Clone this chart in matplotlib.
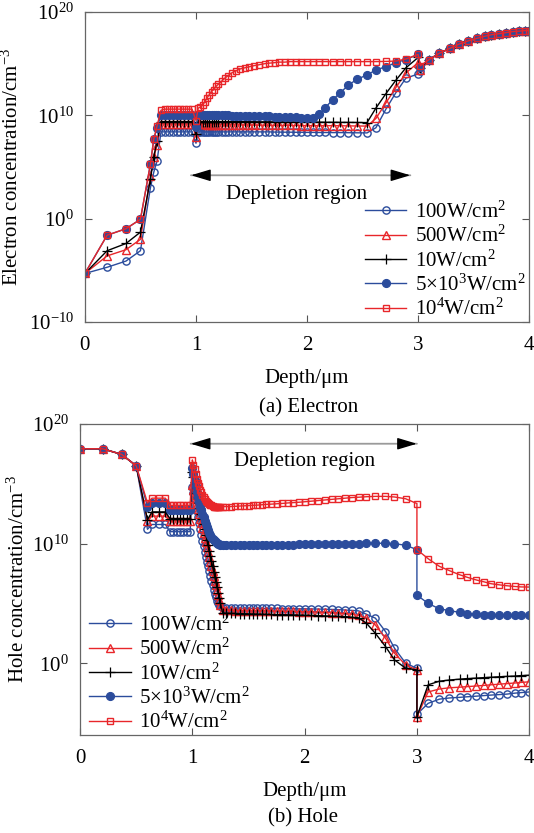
import numpy as np
import matplotlib
matplotlib.use('Agg')
import matplotlib.pyplot as plt
from matplotlib.ticker import FixedLocator, LogFormatterSciNotation, NullLocator

plt.rcParams['font.family'] = ['Liberation Serif', 'DejaVu Serif']
plt.rcParams['mathtext.fontset'] = 'custom'
plt.rcParams['mathtext.rm'] = 'Liberation Serif'
plt.rcParams['mathtext.it'] = 'Liberation Serif:italic'
plt.rcParams['mathtext.bf'] = 'Liberation Serif:bold'

labels = [r'100W/cm$^2$', r'500W/cm$^2$', r'10W/cm$^2$',
          r'5×10$^3$W/cm$^2$', r'10$^4$W/cm$^2$']

# ---------------- (a) Electron concentration (log10 cm^-3) ----------------
x_e = [0, 0.2, 0.37, 0.5, 0.59, 0.62, 0.65, 0.685,
       0.72, 0.755, 0.79, 0.825, 0.86, 0.895, 0.93, 0.965, 1.0,
       1.02, 1.04, 1.06, 1.08, 1.10, 1.12, 1.14, 1.16, 1.18, 1.20,
       1.23, 1.26, 1.29, 1.32, 1.36, 1.40, 1.44, 1.48, 1.52, 1.57, 1.62, 1.66,
       1.71, 1.75, 1.80, 1.85, 1.90, 1.95, 2.0,
       2.05, 2.11, 2.16, 2.23, 2.30, 2.37, 2.45, 2.54, 2.62, 2.71, 2.80, 2.89,
       3.0, 3.02,
       3.1, 3.19, 3.29, 3.37, 3.45, 3.53, 3.6, 3.66, 3.73, 3.79, 3.85, 3.91, 3.96, 4.0]

e_100 = [-5.3, -4.7, -4.1, -3.1, 3.0, 4.5, 5.6, 8.4,
         8.4, 8.4, 8.4, 8.4, 8.4, 8.4, 8.4, 8.4, 7.3,
         8.4, 8.4, 8.4, 8.4, 8.4, 8.4, 8.4, 8.4, 8.4, 8.4,
         8.4, 8.4, 8.4, 8.4, 8.4, 8.4, 8.4, 8.4, 8.4, 8.4, 8.4, 8.4,
         8.38, 8.38, 8.37, 8.37, 8.36, 8.36, 8.35,
         8.35, 8.34, 8.34, 8.33, 8.33, 8.32, 8.31, 8.3, 8.8, 10.6, 12.2, 13.6,
         14.0, 14.3,
         15.4, 16.0, 16.5, 16.9, 17.2, 17.45, 17.65, 17.8, 17.9, 18.0, 18.1, 18.15, 18.2, 18.2]

e_500 = [-5.3, -3.6, -3.0, -2.0, 4.1, 6.0, 7.1, 9.2,
         9.15, 9.15, 9.15, 9.15, 9.15, 9.15, 9.15, 9.15, 7.9,
         9.12, 9.12, 9.12, 9.12, 9.11, 9.11, 9.11, 9.1, 9.1, 9.1,
         9.1, 9.09, 9.09, 9.08, 9.08, 9.07, 9.07, 9.06, 9.06, 9.05, 9.05, 9.04,
         9.04, 9.03, 9.03, 9.02, 9.02, 9.01, 9.01,
         9.0, 9.0, 9.0, 9.0, 9.0, 8.98, 8.97, 8.96, 9.7, 11.2, 12.7, 14.1,
         15.1, 14.4,
         15.4, 16.0, 16.5, 16.9, 17.2, 17.45, 17.65, 17.8, 17.9, 18.0, 18.1, 18.15, 18.2, 18.2]

e_10 = [-5.3, -3.1, -2.4, -1.3, 3.8, 6.0, 7.5, 9.4,
        9.4, 9.4, 9.4, 9.4, 9.4, 9.4, 9.4, 9.4, 8.2,
        9.4, 9.4, 9.4, 9.4, 9.4, 9.4, 9.4, 9.4, 9.4, 9.4,
        9.4, 9.4, 9.4, 9.39, 9.39, 9.39, 9.38, 9.38, 9.38, 9.37, 9.37, 9.37,
        9.36, 9.36, 9.36, 9.35, 9.35, 9.35, 9.35,
        9.34, 9.34, 9.33, 9.33, 9.32, 9.32, 9.31, 9.3, 10.7, 12.1, 13.4, 14.6,
        15.6, 14.6,
        15.4, 16.0, 16.5, 16.9, 17.2, 17.45, 17.65, 17.8, 17.9, 18.0, 18.1, 18.15, 18.2, 18.2]

e_5e3 = [-5.3, -1.6, -0.97, -0.06, 5.3, 7.7, 8.8, 10.0,
         10.05, 10.05, 10.05, 10.05, 10.05, 10.05, 10.05, 10.05, 8.9,
         10.05, 10.05, 10.05, 10.05, 10.04, 10.04, 10.03, 10.03, 10.02, 10.02,
         10.01, 10.0, 9.99, 9.98, 9.97, 9.96, 9.95, 9.94, 9.93, 9.92, 9.91, 9.9,
         9.88, 9.86, 9.84, 9.82, 9.8, 9.78, 9.76,
         9.75, 10.1, 10.7, 11.5, 12.2, 12.9, 13.5, 13.9, 14.4, 14.7, 15.1, 15.4,
         15.9, 14.7,
         15.4, 16.0, 16.5, 16.9, 17.2, 17.45, 17.65, 17.8, 17.9, 18.0, 18.1, 18.15, 18.2, 18.2]

e_1e4 = [-5.3, -1.6, -0.97, -0.06, 5.3, 7.7, 9.0, 10.5,
         10.6, 10.6, 10.6, 10.6, 10.6, 10.6, 10.6, 10.6, 9.5,
         10.7, 10.8, 11.0, 11.3, 11.7, 12.0, 12.3, 12.5, 12.8, 13.0,
         13.3, 13.6, 13.85, 14.1, 14.3, 14.5, 14.6, 14.7, 14.8, 14.9, 15.0, 15.05,
         15.1, 15.15, 15.15, 15.2, 15.2, 15.2, 15.2,
         15.2, 15.2, 15.2, 15.2, 15.2, 15.2, 15.2, 15.2, 15.2, 15.22, 15.25, 15.45,
         15.9, 14.8,
         15.4, 16.0, 16.5, 16.9, 17.2, 17.45, 17.65, 17.8, 17.9, 18.0, 18.1, 18.15, 18.2, 18.2]

# ---------------- (b) Hole concentration (log10 cm^-3) ----------------
x_h = [0, 0.2, 0.37, 0.5,
       0.6, 0.64, 0.7, 0.76,
       0.8, 0.83, 0.86, 0.89, 0.92, 0.95, 0.98,
       1.0,
       1.01, 1.02, 1.03, 1.04, 1.05, 1.06, 1.07, 1.08, 1.09, 1.10, 1.11, 1.12, 1.13,
       1.14, 1.15, 1.16, 1.17, 1.18, 1.19, 1.20, 1.21, 1.22, 1.23, 1.24, 1.25, 1.27,
       1.3, 1.34, 1.38, 1.42, 1.46, 1.5, 1.54, 1.58, 1.62, 1.66, 1.7, 1.75, 1.8,
       1.85, 1.9, 1.95, 2.0, 2.06, 2.12, 2.18, 2.24, 2.3, 2.36, 2.42, 2.48,
       2.55, 2.63, 2.72, 2.8, 2.9, 3.0,
       3.0,
       3.1, 3.2, 3.29, 3.38, 3.45, 3.53, 3.6, 3.66, 3.73, 3.8, 3.87, 3.93, 4.0]

h_100 = [17.93, 17.93, 17.46, 16.5,
         11.2, 11.6, 11.6, 11.6,
         11.0, 11.0, 11.0, 11.0, 11.0, 11.0, 11.0,
         14.7,
         14.2, 13.7, 13.2, 12.7, 12.2, 11.7, 11.2, 10.7, 10.2, 9.8, 9.3, 8.9, 8.5,
         8.1, 7.7, 7.3, 6.9, 6.5, 6.1, 5.8, 5.5, 5.2, 5.0, 4.85, 4.75, 4.65,
         4.63, 4.62, 4.62, 4.61, 4.61, 4.6, 4.6, 4.6, 4.59, 4.59, 4.58, 4.58, 4.57,
         4.57, 4.56, 4.55, 4.55, 4.54, 4.53, 4.52, 4.5, 4.48, 4.45, 4.42, 4.38,
         4.1, 3.77, 2.65, 1.26, 0.0, -0.42,
         -4.27,
         -3.35, -3.0, -2.9, -2.85, -2.8, -2.75, -2.7, -2.66, -2.62, -2.58, -2.5, -2.45, -2.4]

h_500 = [17.93, 17.93, 17.46, 16.5,
         11.9, 12.3, 12.3, 12.3,
         11.9, 11.9, 11.9, 11.9, 11.9, 11.9, 11.9,
         14.9,
         14.5, 14.1, 13.7, 13.3, 12.9, 12.5, 12.1, 11.7, 11.3, 10.9, 10.5, 10.1, 9.7,
         9.3, 8.9, 8.5, 8.1, 7.7, 7.3, 6.9, 6.5, 6.1, 5.7, 5.3, 4.9, 4.45,
         4.42, 4.42, 4.41, 4.41, 4.4, 4.4, 4.39, 4.39, 4.38, 4.38, 4.37, 4.36, 4.35,
         4.34, 4.33, 4.32, 4.31, 4.3, 4.28, 4.26, 4.24, 4.2, 4.16, 4.1, 4.0,
         3.77, 3.2, 2.1, 0.84, -0.14, -0.56,
         -4.47,
         -2.4, -2.15, -2.05, -2.0, -1.95, -1.9, -1.85, -1.8, -1.75, -1.7, -1.65, -1.6, -1.55]

h_10 = [17.93, 17.93, 17.46, 16.5,
        12.0, 12.65, 12.65, 12.65,
        12.1, 12.1, 12.1, 12.1, 12.1, 12.1, 12.1,
        16.0,
        15.6, 15.15, 14.7, 14.25, 13.8, 13.4, 12.95, 12.5, 12.05, 11.6, 11.2, 10.75, 10.3,
        9.85, 9.4, 9.0, 8.55, 8.1, 7.65, 7.2, 6.8, 6.35, 5.9, 5.45, 5.0, 4.2,
        4.18, 4.17, 4.16, 4.15, 4.14, 4.13, 4.12, 4.11, 4.1, 4.09, 4.08, 4.07, 4.06,
        4.05, 4.04, 4.03, 4.02, 4.0, 3.98, 3.96, 3.94, 3.92, 3.9, 3.85, 3.8,
        3.35, 2.5, 1.4, 0.28, -0.42, -0.56,
        -4.47,
        -1.8, -1.5, -1.4, -1.33, -1.28, -1.24, -1.2, -1.17, -1.13, -1.1, -1.07, -1.03, -1.0]

h_5e3 = [17.93, 17.93, 17.46, 16.5,
         13.1, 13.4, 13.4, 13.4,
         12.8, 12.8, 12.8, 12.8, 12.8, 12.8, 12.8,
         16.3,
         15.8, 15.3, 14.8, 14.3, 13.9, 13.5, 13.1, 12.8, 12.5, 12.2, 11.9, 11.6, 11.35,
         11.1, 10.9, 10.7, 10.55, 10.4, 10.3, 10.2, 10.1, 10.05, 10.0, 9.95, 9.92, 9.9,
         9.88, 9.87, 9.87, 9.87, 9.87, 9.88, 9.88, 9.88, 9.89, 9.89, 9.9, 9.9, 9.9,
         9.91, 9.92, 9.93, 9.94, 9.95, 9.96, 9.97, 9.98, 9.99, 10.0, 10.0, 10.0,
         10.02, 10.03, 10.03, 10.0, 9.86, 9.5,
         5.7,
         5.0, 4.55, 4.4, 4.25, 4.15, 4.1, 4.05, 4.03, 4.02, 4.02, 4.02, 4.02, 4.02]

h_1e4 = [17.93, 17.93, 17.46, 16.5,
         13.4, 13.8, 13.8, 13.8,
         13.2, 13.2, 13.2, 13.2, 13.2, 13.2, 13.2,
         17.0,
         16.6, 16.2, 15.8, 15.4, 15.1, 14.8, 14.5, 14.3, 14.1, 13.9, 13.75, 13.6, 13.5,
         13.4, 13.3, 13.25, 13.2, 13.15, 13.1, 13.1, 13.1, 13.1, 13.1, 13.1, 13.1, 13.1,
         13.1, 13.1, 13.12, 13.14, 13.16, 13.18, 13.2, 13.22, 13.25, 13.28, 13.3, 13.33, 13.36,
         13.4, 13.43, 13.46, 13.5, 13.55, 13.6, 13.65, 13.7, 13.75, 13.8, 13.85, 13.88,
         13.92, 13.95, 13.95, 13.9, 13.75, 13.35,
         9.5,
         8.74, 8.1, 7.74, 7.4, 7.18, 6.96, 6.8, 6.65, 6.56, 6.48, 6.42, 6.38, 6.37]

BLUE = '#2b4c9c'
RED = '#e8262a'
styles = [dict(color=BLUE, marker='o', mfc='none', ms=5.2, mew=1.0),
          dict(color=RED, marker='^', mfc='none', ms=5.4, mew=1.0),
          dict(color='black', marker='+', ms=7.0, mew=0.9),
          dict(color=BLUE, marker='o', mfc=BLUE, ms=5.6, mew=1.0),
          dict(color=RED, marker='s', mfc='none', ms=4.5, mew=1.0)]

FS = 15
fig = plt.figure(figsize=(5.34, 8.33), dpi=100)
ax1 = fig.add_axes([0.159, 0.6134, 0.832, 0.3722])
ax2 = fig.add_axes([0.150, 0.1176, 0.841, 0.3734])


def style_axis(ax, ylo, yticks):
    ax.set_yscale('log')
    ax.set_xlim(0, 4)
    ax.set_ylim(ylo, 1e20)
    ax.yaxis.set_major_locator(FixedLocator(yticks))
    ax.yaxis.set_major_formatter(LogFormatterSciNotation())
    ax.yaxis.set_minor_locator(NullLocator())
    ax.set_xticks([0, 1, 2, 3, 4])
    ax.tick_params(direction='in', length=5, width=0.8, color='#555555',
                   top=True, right=True, labelsize=FS)
    ax.tick_params(axis='x', pad=10)
    ax.tick_params(axis='y', pad=8)
    for s in ax.spines.values():
        s.set_color('#666666')
        s.set_linewidth(0.9)
    ax.set_xlabel('Depth/μm', fontsize=FS, labelpad=10)


def arrow(ax, x0, x1, y):
    ax.annotate('', xy=(x0, y), xytext=(x1, y),
                arrowprops=dict(arrowstyle='-', color='#9a9a9a', lw=1.3,
                                shrinkA=0, shrinkB=0))
    ax.annotate('', xy=(x0, y), xytext=(x0 + 0.15, y),
                arrowprops=dict(arrowstyle='-|>,head_length=0.6,head_width=0.18',
                                color='black', lw=1.0, mutation_scale=20,
                                shrinkA=0, shrinkB=0))
    ax.annotate('', xy=(x1, y), xytext=(x1 - 0.15, y),
                arrowprops=dict(arrowstyle='-|>,head_length=0.6,head_width=0.18',
                                color='black', lw=1.0, mutation_scale=20,
                                shrinkA=0, shrinkB=0))


e_series = [e_100, e_500, e_10, e_5e3, e_1e4]
for vals, st, lab in zip(e_series, styles, labels):
    ax1.plot(x_e, 10 ** np.array(vals), lw=1.0, label=lab, **st)
style_axis(ax1, 1e-10, [1e-10, 1e0, 1e10, 1e20])
ax1.set_ylabel('Electron concentration/cm$^{-3}$', fontsize=FS, labelpad=4)
arrow(ax1, 0.955, 2.93, 10 ** 4.2)
ax1.text(1.91, 10 ** 2.3, 'Depletion region', fontsize=FS, ha='center', va='center')
ax1.legend(loc='lower left', bbox_to_anchor=(0.625, 0.0), frameon=False,
           fontsize=FS, handlelength=2.0, handletextpad=0.4, labelspacing=0.15,
           borderpad=0.1, borderaxespad=0.0)

h_series = [h_100, h_500, h_10, h_5e3, h_1e4]
for vals, st, lab in zip(h_series, styles, labels):
    ax2.plot(x_h, 10 ** np.array(vals), lw=1.0, label=lab, **st)
style_axis(ax2, 1e-6, [1e0, 1e10, 1e20])
ax2.set_ylabel('Hole concentration/cm$^{-3}$', fontsize=FS, labelpad=2)
arrow(ax2, 0.985, 3.0, 10 ** 18.35)
ax2.text(2.0, 10 ** 16.9, 'Depletion region', fontsize=FS, ha='center', va='center')
ax2.legend(loc='lower left', bbox_to_anchor=(0.015, 0.0), frameon=False,
           fontsize=FS, handlelength=2.0, handletextpad=0.4, labelspacing=0.15,
           borderpad=0.1, borderaxespad=0.0)

fig.text(0.578, 1 - 408 / 833, '(a) Electron', fontsize=FS, ha='center', va='center')
fig.text(0.568, 1 - 818 / 833, '(b) Hole', fontsize=FS, ha='center', va='center')

fig.savefig('out.png', dpi=100)
